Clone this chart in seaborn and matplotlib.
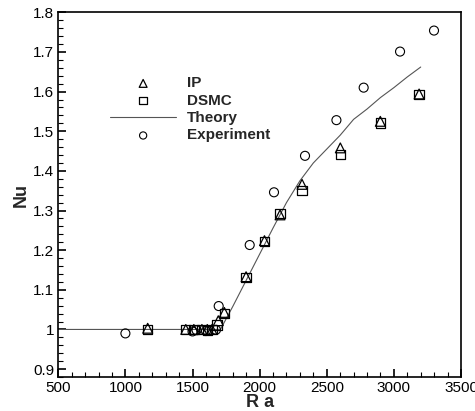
import matplotlib
matplotlib.use("Agg")
import matplotlib.pyplot as plt
import seaborn as sns
import pandas as pd
from matplotlib.ticker import MultipleLocator

# values
ip_ra = [1166, 1450, 1510, 1570, 1610, 1645, 1692, 1737, 1899, 2036, 2152, 2316, 2601, 2899, 3188]
ip_nu = [1.003, 1.0, 1.0, 1.0, 1.0, 1.0, 1.022, 1.043, 1.133, 1.224, 1.289, 1.366, 1.458, 1.525, 1.594]

dsmc_ra = [1166, 1450, 1510, 1570, 1610, 1645, 1682, 1737, 1899, 2036, 2152, 2316, 2601, 2899, 3188]
dsmc_nu = [1.0, 1.0, 1.0, 1.0, 0.998, 1.0, 1.011, 1.041, 1.131, 1.222, 1.292, 1.350, 1.441, 1.521, 1.592]

exp_ra = [1000, 1500, 1530, 1600, 1675, 1695, 1926, 2107, 2338, 2572, 2775, 3046, 3299]
exp_nu = [0.99, 0.995, 0.998, 0.996, 0.999, 1.059, 1.213, 1.346, 1.438, 1.528, 1.610, 1.701, 1.754]

theory_ra = [500, 1708, 1800, 1900, 2000, 2100, 2200, 2300, 2400, 2500, 2600, 2700, 2800, 2900, 3000, 3100, 3200]
theory_nu = [1.0, 1.0, 1.058, 1.124, 1.19, 1.256, 1.32, 1.375, 1.42, 1.455, 1.49, 1.53, 1.556, 1.585, 1.61, 1.637, 1.662]

sns.set_style("ticks")
plt.rcParams["font.family"] = ["Liberation Sans", "DejaVu Sans"]

fig = plt.figure(figsize=(4.75, 4.11), dpi=100)
ax = fig.add_axes([0.1227, 0.0827, 0.8478, 0.8873])

theory = pd.DataFrame({"Ra": theory_ra, "Nu": theory_nu})
ip = pd.DataFrame({"Ra": ip_ra, "Nu": ip_nu})
dsmc = pd.DataFrame({"Ra": dsmc_ra, "Nu": dsmc_nu})
exp = pd.DataFrame({"Ra": exp_ra, "Nu": exp_nu})

sns.lineplot(data=theory, x="Ra", y="Nu", ax=ax, color="#555555", lw=0.8,
             sort=False, label="Theory", zorder=2)
sns.scatterplot(data=ip, x="Ra", y="Nu", ax=ax, marker="^", s=50,
                facecolor="none", edgecolor="black", linewidth=0.9, label="IP", zorder=3)
sns.scatterplot(data=dsmc, x="Ra", y="Nu", ax=ax, marker="s", s=45,
                facecolor="none", edgecolor="black", linewidth=0.9, label="DSMC", zorder=3)
sns.scatterplot(data=exp, x="Ra", y="Nu", ax=ax, marker="o", s=42,
                facecolor="none", edgecolor="black", linewidth=0.8, label="Experiment", zorder=3)

ax.set_xlim(500, 3500)
ax.set_ylim(0.88, 1.8)
ax.xaxis.set_major_locator(MultipleLocator(500))
ax.xaxis.set_minor_locator(MultipleLocator(100))
ax.yaxis.set_minor_locator(MultipleLocator(0.02))
ax.set_yticks([0.9, 1.0, 1.1, 1.2, 1.3, 1.4, 1.5, 1.6, 1.7, 1.8])
ax.set_yticklabels(["0.9", "1", "1.1", "1.2", "1.3", "1.4", "1.5", "1.6", "1.7", "1.8"])

ax.tick_params(which="both", direction="in", top=False, right=False,
               labelsize=11, colors="black", pad=3)
ax.tick_params(which="major", length=6, width=1.2)
ax.tick_params(which="minor", length=3.5, width=0.8)
for s in ax.spines.values():
    s.set_linewidth(1.2)
    s.set_color("black")

ax.set_xlabel("R a", fontsize=13, fontweight="bold", labelpad=-1)
ax.set_ylabel("Nu", fontsize=13, fontweight="bold", labelpad=2)

h, l = ax.get_legend_handles_labels()
order = [l.index(n) for n in ["IP", "DSMC", "Theory", "Experiment"]]
ax.legend([h[i] for i in order], [l[i] for i in order], loc="upper left",
          bbox_to_anchor=(0.095, 0.862), frameon=False, handlelength=4.3,
          handletextpad=0.7, labelspacing=0.22, markerscale=0.8,
          prop={"weight": "bold", "size": 11})

fig.savefig("out.png", dpi=100)
